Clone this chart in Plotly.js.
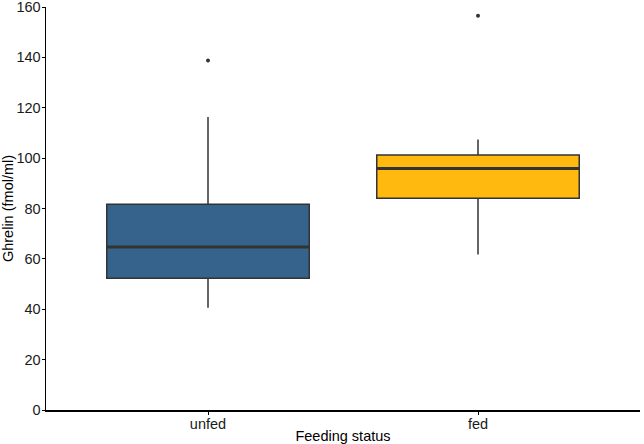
<!DOCTYPE html>
<html><head><meta charset="utf-8">
<script src="https://cdn.plot.ly/plotly-3.0.1.min.js"></script>
<style>html,body{margin:0;padding:0;background:#fff}#c{width:644px;height:444px}</style>
</head><body><div id="c"></div>
<script>
const categories = ["unfed", "fed"];
const lowerWhisker = [40.6, 61.7];
const q1 = [52.3, 84.1];
const median = [64.7, 95.9];
const q3 = [81.7, 101.2];
const upperWhisker = [116.3, 107.4];
const outliers = [[138.8], [156.5]];
const colors = ["#36638B", "#FFB90F"];

const traces = [];
categories.forEach((cat, i) => {
  traces.push({
    type: "box", x: [cat], q1: [q1[i]], median: [median[i]], q3: [q3[i]],
    lowerfence: [lowerWhisker[i]], upperfence: [upperWhisker[i]],
    fillcolor: colors[i], line: {color: "#333333", width: 1.5},
    whiskerwidth: 0, width: 0.75, boxpoints: false, hoverinfo: "skip", showlegend: false
  });
});
// thick median bars
categories.forEach((cat, i) => {
  traces.push({
    type: "box", x: [cat], q1: [median[i]], median: [median[i]], q3: [median[i]],
    lowerfence: [median[i]], upperfence: [median[i]],
    fillcolor: "#333333", line: {color: "#333333", width: 3},
    whiskerwidth: 0, width: 0.75, boxpoints: false, hoverinfo: "skip", showlegend: false
  });
});
categories.forEach((cat, i) => {
  traces.push({
    type: "scatter", mode: "markers", x: outliers[i].map(() => cat), y: outliers[i],
    marker: {color: "#333333", size: 4}, hoverinfo: "skip", showlegend: false
  });
});

const layout = {
  width: 644, height: 444,
  margin: {l: 46, r: 4, t: 7, b: 34},
  paper_bgcolor: "#fff", plot_bgcolor: "#fff",
  font: {family: "Liberation Sans, Arial, sans-serif", size: 14.5, color: "#1a1a1a"},
  boxmode: "overlay",
  showlegend: false,
  xaxis: {
    type: "category", categoryarray: categories, range: [-0.6, 1.6],
    showline: true, linecolor: "#000", linewidth: 1.5, showgrid: false, zeroline: false,
    ticks: "outside", ticklen: 3, tickcolor: "#000", tickwidth: 1,
    ticklabelstandoff: -3,
    tickfont: {size: 14.5, color: "#1a1a1a"},
    title: {text: "Feeding status", font: {size: 14.5, color: "#000"}, standoff: 2}
  },
  yaxis: {
    range: [0, 160], tickvals: [0, 20, 40, 60, 80, 100, 120, 140, 160],
    showline: true, linecolor: "#000", linewidth: 1.5, showgrid: false, zeroline: false,
    ticks: "outside", ticklen: 3, tickcolor: "#000", tickwidth: 1,
    ticklabelstandoff: -2, ticklabeloverflow: "allow",
    tickfont: {size: 14.5, color: "#1a1a1a"},
    title: {text: "Ghrelin (fmol/ml)", font: {size: 14.5, color: "#000"}, standoff: 4}
  }
};
Plotly.newPlot("c", traces, layout, {displayModeBar: false, staticPlot: true});
</script></body></html>
